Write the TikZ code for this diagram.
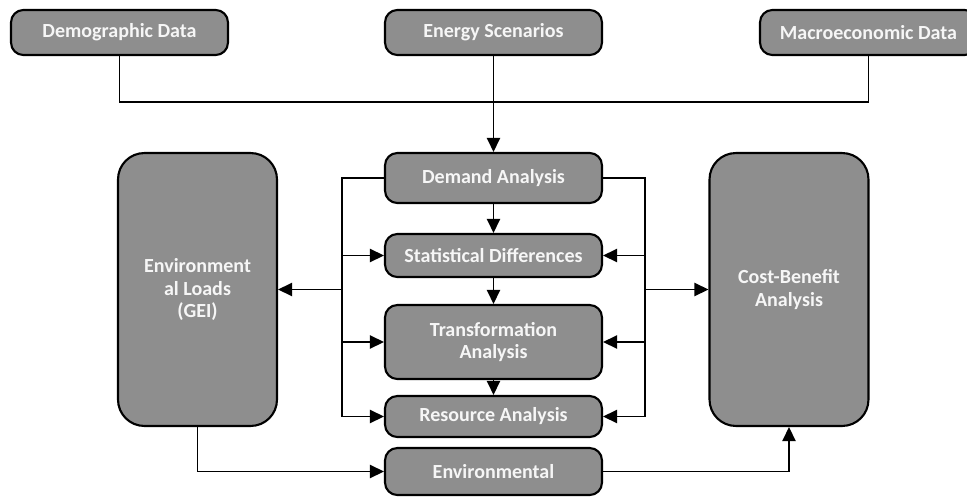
\documentclass[tikz,border=0pt]{standalone}
\usepackage{fontspec}
\setmainfont{Carlito}
\usepackage{tikz}
\usetikzlibrary{arrows.meta,positioning}

\definecolor{boxgray}{HTML}{8E8E8E}
\definecolor{boxtext}{HTML}{F6F6F6}

\begin{document}
\begin{tikzpicture}[x=0.02cm, y=-0.02cm,
    box/.style={draw=black, line width=1.2pt, fill=boxgray, text=boxtext,
      font=\fontsize{11.4}{12.8}\selectfont\bfseries, align=center,
      rounded corners=7pt, inner sep=0pt, minimum width=4.34cm},
    tallbox/.style={box, rounded corners=15pt, minimum width=3.18cm, minimum height=5.46cm},
    line/.style={draw=black, line width=1.05pt},
    arr/.style={line, -{Triangle[length=8pt, width=7.5pt]}}]

   \useasboundingbox (0,0) rectangle (967,497);

   % Define the inputs on top
   \node[box, minimum height=0.9cm] (demo_data) at (119.5,32.5) {Demographic Data};
   \node[box, minimum height=0.9cm] (energy_scen) at (493.5,32.5) {Energy Scenarios};
   \node[box, minimum height=0.9cm] (macro_data) at (868.5,32.5) {Macroeconomic Data};

   % Define the analysis chain
   \node[box, minimum height=1.0cm] (demand) at (493.5,178) {Demand Analysis};
   \node[box, minimum height=0.86cm] (stat_diff) at (493.5,255.5) {Statistical Differences};
   \node[box, minimum height=1.48cm] (transform) at (493.5,342) {Transformation\\Analysis};
   \node[box, minimum height=0.82cm] (resource) at (493.5,416.5) {Resource Analysis};
   \node[box, minimum height=0.94cm] (environ) at (493.5,471.5) {Environmental};

   % Define the side blocks
   \node[tallbox] (env_loads) at (197.5,289.5) {Environment\\al Loads\\(GEI)};
   \node[tallbox] (cost_benefit) at (789,289.5) {Cost-Benefit\\Analysis};

   \coordinate (join) at (493.5,102);
   \coordinate (left_bus) at (342,0);
   \coordinate (right_bus) at (645,0);

   % Define connections
   \draw[line] (demo_data.south) |- (join) -| (macro_data.south);
   \draw[arr] (energy_scen.south) -- (demand.north);

   \draw[arr] (demand) -- (stat_diff);
   \draw[arr] (stat_diff) -- (transform);
   \draw[arr] (transform) -- (resource);

   \draw[arr] (demand.west) -| (left_bus |- resource.west) -- (resource.west);
   \draw[arr] (left_bus |- stat_diff.west) -- (stat_diff.west);
   \draw[arr] (left_bus |- transform.west) -- (transform.west);
   \draw[arr] (left_bus |- env_loads.east) -- (env_loads.east);

   \draw[arr] (demand.east) -| (right_bus |- resource.east) -- (resource.east);
   \draw[arr] (right_bus |- stat_diff.east) -- (stat_diff.east);
   \draw[arr] (right_bus |- transform.east) -- (transform.east);
   \draw[arr] (right_bus |- cost_benefit.west) -- (cost_benefit.west);

   \draw[arr] (env_loads.south) |- (environ.west);
   \draw[arr] (environ.east) -| (cost_benefit.south);

\end{tikzpicture}
\end{document}
